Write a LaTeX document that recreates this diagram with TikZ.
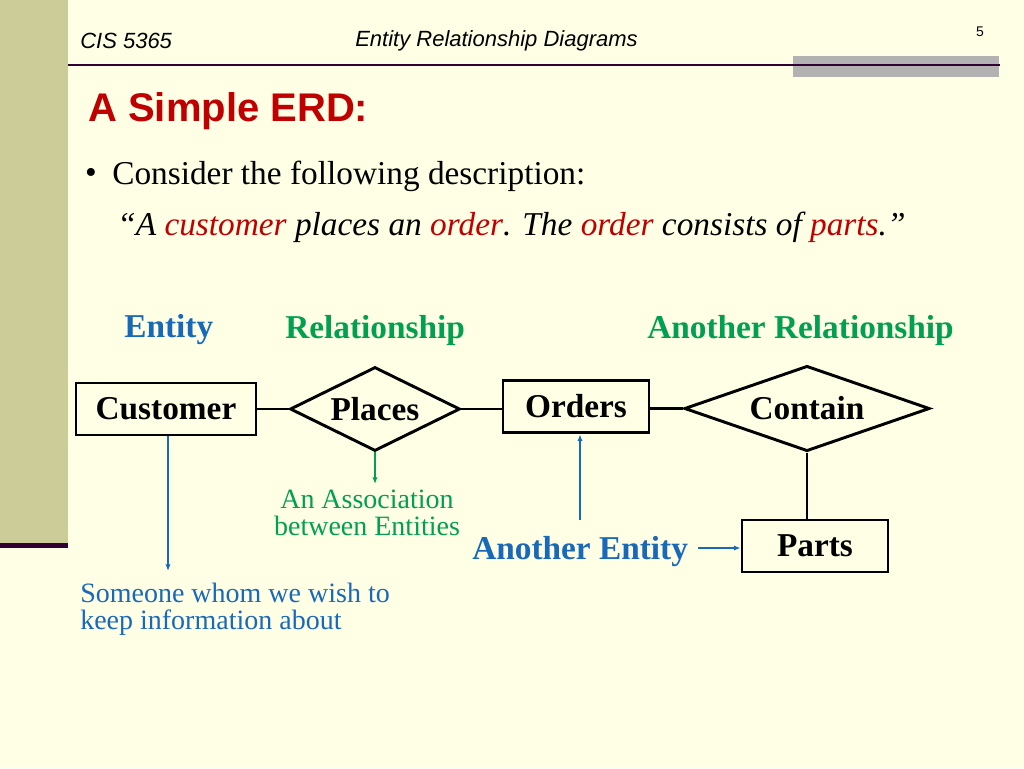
\documentclass[tikz,border=0pt]{standalone}
\usepackage{fontspec}
\setmainfont{Liberation Serif}
\setsansfont{Liberation Sans}
\usetikzlibrary{shapes.geometric, arrows.meta, calc}

\definecolor{slidebg}{RGB}{255,255,230}
\definecolor{sidebar}{RGB}{204,204,153}
\definecolor{rulecol}{RGB}{51,0,51}
\definecolor{tabgray}{RGB}{178,178,178}
\definecolor{titlered}{RGB}{192,0,0}
\definecolor{noteblue}{RGB}{25,105,185}
\definecolor{notegreen}{RGB}{0,160,80}

\newcommand{\fsz}[1]{\fontsize{#1}{1.2\dimexpr#1pt\relax}\selectfont}

\begin{document}
\begin{tikzpicture}[x=0.75pt,y=-0.75pt,
  txt/.style={inner sep=0pt,anchor=west},
  entity/.style={draw,rectangle,line width=2.2pt,inner sep=0pt,font=\fsz{25}\bfseries},
  relation/.style={draw,diamond,line width=2.2pt,inner sep=0pt},
  reltext/.style={inner sep=0pt,font=\fsz{25}\bfseries},
  link/.style={line width=2.2pt},
  pointer/.style={line width=1.1pt,-{Latex[length=5pt,width=4pt]}}]
% Slide background, side bar and header rules
\useasboundingbox (0,0) rectangle (1024,768);
\fill [slidebg] (0,0) rectangle (1024,768);
\fill [sidebar] (0,0) rectangle (68,544);
\fill [rulecol] (0,543) rectangle (68,548);
\fill [tabgray] (793,56) rectangle (999,77);
\draw [rulecol,line width=2.2pt] (68,65) -- (1000,65);
% Header and title
\node [txt,font=\fsz{16.5}\sffamily\itshape] (course) at (80,41) {CIS 5365};
\node [txt,font=\fsz{16.5}\sffamily\itshape] (topic) at (355,41) {Entity Relationship Diagrams};
\node [inner sep=0pt,font=\fsz{10.5}\sffamily] (pageno) at (980,32) {5};
\node [txt,font=\fsz{30}\sffamily\bfseries,text=titlered] (title) at (88,111) {A Simple ERD:};
% Description
\node [inner sep=0pt,font=\fsz{25}] (bullet) at (91,176) {\textbullet};
\node [txt,font=\fsz{25}] (consider) at (112,176) {Consider the following description:};
\node [txt,font=\fsz{25}\itshape] (quote) at (117,227)
  {``A \textcolor{titlered}{customer} places an \textcolor{titlered}{order}. The \textcolor{titlered}{order} consists of \textcolor{titlered}{parts}.''};
% Headings over the diagram
\node [txt,font=\fsz{25}\bfseries,text=noteblue] (hentity) at (124,330) {Entity};
\node [txt,font=\fsz{25}\bfseries,text=notegreen] (hrel) at (285,330) {Relationship};
\node [txt,font=\fsz{25}\bfseries,text=notegreen] (hrel2) at (647,330) {Another Relationship};
% Entities and relationships
\node [entity,minimum width=135pt,minimum height=39pt] (customer) at (166,409) {Customer};
\node [relation,minimum width=127.5pt,minimum height=63pt] (places) at (375,409) {};
\node [reltext] at (places) {Places};
\node [entity,minimum width=109.5pt,minimum height=39.5pt] (orders) at (576,406.5) {Orders};
\node [relation,minimum width=184pt,minimum height=64pt] (contain) at (807,408.5) {};
\node [reltext] at (contain) {Contain};
\node [entity,minimum width=109.5pt,minimum height=39pt] (parts) at (815,546) {Parts};
\draw [link] (customer.east) -- (places.west);
\draw [link] (places.east) -- (places.east -| orders.west);
\draw [link] (orders.east |- contain.west) -- (contain.west);
\draw [link] (contain.south) -- (contain.south |- parts.north);
% Notes and their pointers
\node [txt,anchor=north west,align=left,font=\fsz{21},text=noteblue] (someone) at (80,583)
  {Someone whom we wish to\\[-5pt]keep information about};
\node [anchor=north,inner sep=0pt,align=center,font=\fsz{21},text=notegreen] (assoc) at (367,490)
  {An Association\\[-5pt]between Entities};
\node [txt,font=\fsz{25}\bfseries,text=noteblue] (another) at (472,552) {Another Entity};
\coordinate (cdown) at (168,571);
\draw [pointer,noteblue] (customer.south -| cdown) -- (cdown);
\draw [pointer,notegreen] (places.south) -- (375,484);
\coordinate (oup) at (580,520);
\draw [pointer,noteblue] (oup) -- (oup |- orders.south);
\draw [pointer,noteblue] ($(another.east)+(10,-4)$) -- (parts.west |- {$(another.east)+(0,-4)$});
\end{tikzpicture}
\end{document}
